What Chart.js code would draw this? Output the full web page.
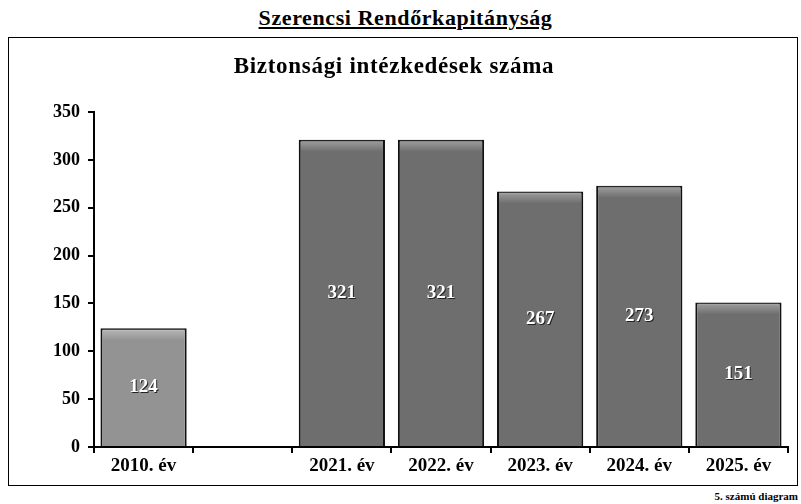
<!DOCTYPE html>
<html>
<head>
<meta charset="utf-8">
<script src="https://cdn.jsdelivr.net/npm/chart.js@4"></script>
<style>
  body { margin: 0; background: #fff; width: 801px; height: 504px; position: relative; font-family: 'Liberation Serif', serif; }
  #fo-cim { position: absolute; left: 5px; width: 801px; top: 5px; text-align: center; font-weight: bold; font-size: 22px; letter-spacing: 0.6px; }
  #fo-cim span { text-decoration: underline; }
  #keret { position: absolute; left: 8px; top: 37px; width: 790px; height: 449px; border: 1px solid #000; box-sizing: border-box; }
  #cim { position: absolute; left: -9px; width: 100%; top: 15px; text-align: center; font-weight: bold; font-size: 23px; letter-spacing: 0.7px; }
  #grafikon { position: absolute; left: 0; top: 0; }
  #lablec { position: absolute; right: 3px; top: 490px; font-size: 11px; font-weight: bold; }
</style>
</head>
<body>
<div id="fo-cim"><span>Szerencsi Rendőrkapitányság</span></div>
<div id="keret">
  <canvas id="grafikon" width="788" height="447"></canvas>
  <div id="cim">Biztonsági intézkedések száma</div>
</div>
<div id="lablec">5. számú diagram</div>
<script>
const evek = ['2010. év', '', '2021. év', '2022. év', '2023. év', '2024. év', '2025. év'];
const ertekek = [124, null, 321, 321, 267, 273, 151];
const szinek = ['#939393', '#6e6e6e', '#6e6e6e', '#6e6e6e', '#6e6e6e', '#6e6e6e', '#6e6e6e'];
const yMax = 350;
const yLepes = 50;

// ertekek kiirasa az oszlopok kozepere
const ertekCimke = {
  id: 'ertekCimke',
  afterDatasetsDraw(chart) {
    const ctx = chart.ctx;
    const meta = chart.getDatasetMeta(0);
    ctx.save();
    ctx.font = 'bold 19px "Liberation Serif"';
    ctx.textAlign = 'center';
    ctx.textBaseline = 'middle';
    meta.data.forEach((bar, i) => {
      if (ertekek[i] == null) return;
      const y = (bar.y + bar.base) / 2;
      // halvany fenyes sav az oszlop tetejen
      const g = ctx.createLinearGradient(0, bar.y + 2, 0, bar.y + 12);
      g.addColorStop(0, 'rgba(255,255,255,0.3)');
      g.addColorStop(1, 'rgba(255,255,255,0)');
      ctx.fillStyle = g;
      ctx.fillRect(bar.x - bar.width / 2 + 2, bar.y + 1, bar.width - 4, 11);
      ctx.fillStyle = '#222';
      ctx.fillText(ertekek[i], bar.x + 1, y + 1);
      ctx.fillStyle = '#fff';
      ctx.fillText(ertekek[i], bar.x, y);
    });
    ctx.restore();
  }
};

new Chart(document.getElementById('grafikon'), {
  type: 'bar',
  data: {
    labels: evek,
    datasets: [{
      data: ertekek,
      backgroundColor: szinek,
      borderColor: '#111',
      borderWidth: 2,
      barPercentage: 0.87,
      categoryPercentage: 1
    }]
  },
  options: {
    responsive: false,
    animation: false,
    events: [],
    layout: { padding: { top: 74, right: 9, bottom: 0, left: 0 } },
    plugins: {
      legend: { display: false },
      title: { display: false },
      tooltip: { enabled: false }
    },
    scales: {
      x: {
        afterFit(scale) { scale.height = 38; },
        border: { color: '#000', width: 2 },
        grid: { offset: true, drawOnChartArea: false, tickLength: 6, color: '#000', lineWidth: 2 },
        ticks: { color: '#000', font: { family: 'Liberation Serif', size: 19, weight: 'bold' }, padding: 2 }
      },
      y: {
        min: 0,
        max: yMax,
        afterFit(scale) { scale.width = 85; },
        border: { color: '#000', width: 2 },
        grid: { drawOnChartArea: false, tickLength: 6, color: '#000', lineWidth: 2 },
        ticks: { stepSize: yLepes, color: '#000', font: { family: 'Liberation Serif', size: 18, weight: 'bold' }, padding: 8 }
      }
    }
  },
  plugins: [ertekCimke]
});
</script>
</body>
</html>
